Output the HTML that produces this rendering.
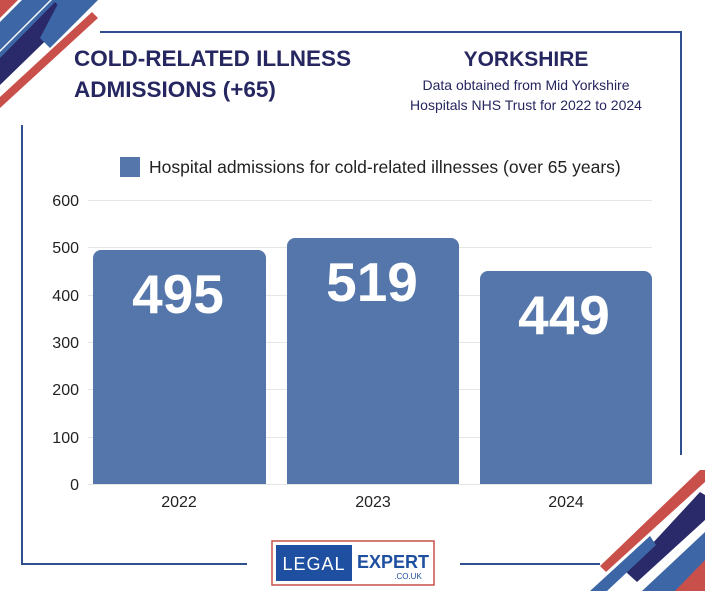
<!DOCTYPE html>
<html><head><meta charset="utf-8"><style>
body{margin:0;width:705px;height:591px;background:#fff;overflow:hidden;font-family:"Liberation Sans",sans-serif}
</style></head><body>
<svg width="705" height="591" xmlns="http://www.w3.org/2000/svg" font-family="Liberation Sans, sans-serif">
<polygon points="0,0 18,0 0,18" fill="#c9504a"/>
<polygon points="22,0 50,0 0,50 0,22" fill="#3c66a5"/>
<polygon points="52,0 70,0 0,70 0,52" fill="#3c66a5"/>
<polygon points="55,2 70,17 0,85 0,58" fill="#2a2a6b"/>
<polygon points="60,0 98,0 50,48 40,38" fill="#3c66a5"/>
<polygon points="92,12 98,18 0,108 0,97" fill="#c9504a"/>
<polygon points="700,470 705,470 705,482 606,572 600,566" fill="#c9504a"/>
<polygon points="700,492 705,495 705,520 637,582 626,572" fill="#2a2a6b"/>
<polygon points="650,536 656,545 607,591 590,591" fill="#3c66a5"/>
<polygon points="705,532 705,591 642,591" fill="#3c66a5"/>
<polygon points="705,560 705,591 675,591" fill="#c9504a"/>
<line x1="100" y1="32" x2="681" y2="32" stroke="#2f4f8f" stroke-width="2"/>
<line x1="681" y1="31" x2="681" y2="455" stroke="#2f4f8f" stroke-width="2"/>
<line x1="22" y1="125" x2="22" y2="565" stroke="#2f4f8f" stroke-width="2"/>
<line x1="21" y1="564" x2="247" y2="564" stroke="#2f4f8f" stroke-width="2"/>
<line x1="460" y1="564" x2="600" y2="564" stroke="#2f4f8f" stroke-width="2"/>
<text x="74" y="66" font-size="22.5" font-weight="bold" fill="#262660">COLD-RELATED ILLNESS</text>
<text x="74" y="97" font-size="22.5" font-weight="bold" fill="#262660">ADMISSIONS (+65)</text>
<text x="526" y="66" font-size="21" font-weight="bold" fill="#262660" text-anchor="middle">YORKSHIRE</text>
<text x="526" y="90" font-size="14" fill="#262660" text-anchor="middle">Data obtained from Mid Yorkshire</text>
<text x="526" y="110" font-size="14" fill="#262660" text-anchor="middle">Hospitals NHS Trust for 2022 to 2024</text>
<rect x="120" y="157" width="20" height="20" fill="#5476aa"/>
<text x="149" y="173" font-size="17.5" fill="#222">Hospital admissions for cold-related illnesses (over 65 years)</text>
<g stroke="#e6e6e6" stroke-width="1">
<line x1="88" y1="200.5" x2="652" y2="200.5"/>
<line x1="88" y1="247.5" x2="652" y2="247.5"/>
<line x1="88" y1="295.5" x2="652" y2="295.5"/>
<line x1="88" y1="342.5" x2="652" y2="342.5"/>
<line x1="88" y1="389.5" x2="652" y2="389.5"/>
<line x1="88" y1="437.5" x2="652" y2="437.5"/>
<line x1="88" y1="484.5" x2="652" y2="484.5"/>
</g>
<g font-size="16" fill="#222" text-anchor="end">
<text x="79" y="206">600</text><text x="79" y="253">500</text><text x="79" y="301">400</text>
<text x="79" y="348">300</text><text x="79" y="395">200</text><text x="79" y="443">100</text><text x="79" y="490">0</text>
</g>
<g fill="#5476aa">
<path d="M93,484 V258 a8,8 0 0 1 8,-8 H258 a8,8 0 0 1 8,8 V484 Z"/>
<path d="M287,484 V246 a8,8 0 0 1 8,-8 H451 a8,8 0 0 1 8,8 V484 Z"/>
<path d="M480,484 V279 a8,8 0 0 1 8,-8 H644 a8,8 0 0 1 8,8 V484 Z"/>
</g>
<g font-size="55" font-weight="bold" fill="#fff" text-anchor="middle">
<text x="178" y="313">495</text>
<text x="372" y="301">519</text>
<text x="564" y="334">449</text>
</g>
<g font-size="16" fill="#222" text-anchor="middle">
<text x="179" y="507">2022</text><text x="373" y="507">2023</text><text x="566" y="507">2024</text>
</g>
<rect x="272" y="541" width="162" height="44" fill="#fff" stroke="#c9504a" stroke-width="1.5"/>
<rect x="276" y="545" width="76" height="36" fill="#1f4fa0"/>
<text x="314" y="570" font-size="18" fill="#fff" text-anchor="middle" letter-spacing="1">LEGAL</text>
<text x="393" y="568" font-size="18" font-weight="bold" fill="#1f4fa0" text-anchor="middle">EXPERT</text>
<text x="408" y="579" font-size="8" fill="#1f4fa0" text-anchor="middle">.CO.UK</text>
</svg>
</body></html>
